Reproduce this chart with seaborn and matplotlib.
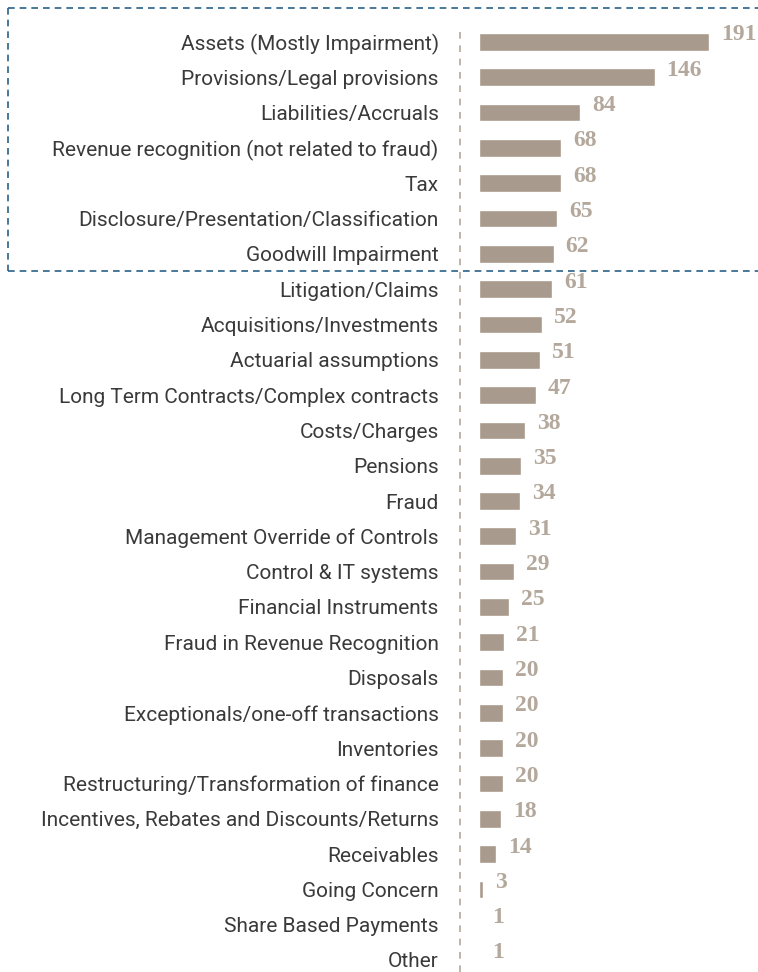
import matplotlib
matplotlib.use("Agg")
import matplotlib.pyplot as plt
import seaborn as sns
from matplotlib.lines import Line2D

categories = [
    "Assets (Mostly Impairment)", "Provisions/Legal provisions", "Liabilities/Accruals",
    "Revenue recognition (not related to fraud)", "Tax", "Disclosure/Presentation/Classification",
    "Goodwill Impairment", "Litigation/Claims", "Acquisitions/Investments",
    "Actuarial assumptions", "Long Term Contracts/Complex contracts", "Costs/Charges",
    "Pensions", "Fraud", "Management Override of Controls", "Control & IT systems",
    "Financial Instruments", "Fraud in Revenue Recognition", "Disposals",
    "Exceptionals/one-off transactions", "Inventories",
    "Restructuring/Transformation of finance", "Incentives, Rebates and Discounts/Returns",
    "Receivables", "Going Concern", "Share Based Payments", "Other",
]
counts = [191, 146, 84, 68, 68, 65, 62, 61, 52, 51, 47, 38, 35, 34, 31, 29,
          25, 21, 20, 20, 20, 20, 18, 14, 3, 1, 1]

bar_color = "#a89a8c"
value_color = "#b3a89b"
box_color = "#2a6189"

sns.set_style("white")
fig = plt.figure(figsize=(7.58, 9.72), dpi=100)
ax = fig.add_axes([479 / 758, 0, 1 - 479 / 758, 1])

sns.barplot(x=counts, y=categories, orient="h", color=bar_color, width=0.5,
            saturation=1, ax=ax)

ax.set_xlim(0, 232)
ax.set_ylim(26.34, -1.19)
ax.set_xticks([])
ax.set_xlabel("")
ax.set_ylabel("")
sns.despine(ax=ax, left=True, bottom=True)
ax.tick_params(axis="y", length=0, pad=29)
for lbl in ax.get_yticklabels():
    lbl.set_fontfamily("Roboto")
    lbl.set_fontsize(15)
    lbl.set_color("#3a3a3a")

for i, v in enumerate(counts):
    ax.text(v + 10, i - 0.2, str(v), ha="left", va="center", fontsize=17,
            fontweight="bold", family="Liberation Serif", color=value_color)

# dashed separator next to the labels
fig.add_artist(Line2D([460 / 758, 460 / 758], [0, 1 - 30 / 972],
                      transform=fig.transFigure, color="#b3a89b",
                      linestyle=(0, (4, 4)), linewidth=1.2))

# highlight box around the top seven
y_top = 1 - 8 / 972
y_bot = 1 - 271 / 972
x_left = 8 / 758
for xs, ys in [([x_left, 1], [y_top, y_top]), ([x_left, 1], [y_bot, y_bot]),
               ([x_left, x_left], [y_top, y_bot])]:
    fig.add_artist(Line2D(xs, ys, transform=fig.transFigure, color=box_color,
                          linestyle=(0, (4, 3)), linewidth=1.2))

fig.savefig("out.png", dpi=100)
